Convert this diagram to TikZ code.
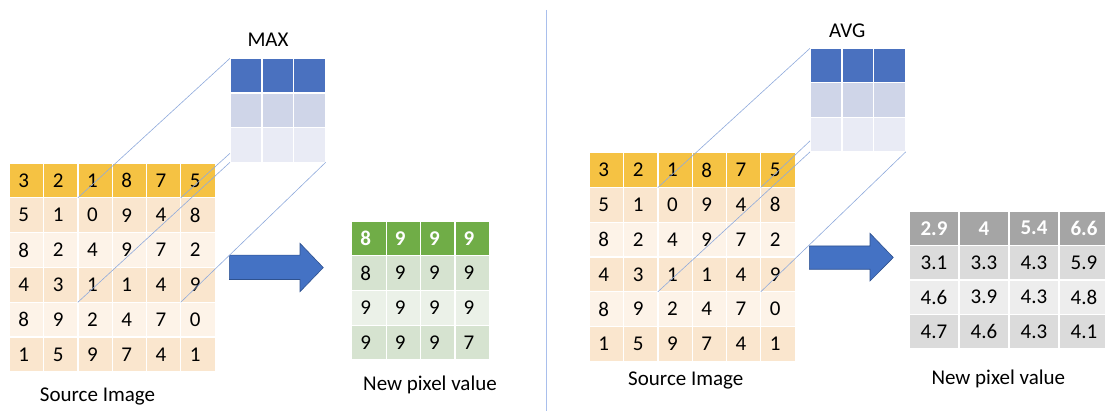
\documentclass[tikz,border=0pt]{standalone}
\usepackage{fontspec}
\setmainfont{Carlito}
\definecolor{gold}{HTML}{F5C243}
\definecolor{orA}{HTML}{FAE6CE}
\definecolor{orB}{HTML}{FDF3E8}
\definecolor{kblue}{HTML}{4A71BF}
\definecolor{kmid}{HTML}{CFD5E8}
\definecolor{klight}{HTML}{E9EBF5}
\definecolor{grn}{HTML}{70AD47}
\definecolor{gA}{HTML}{D6E3D0}
\definecolor{gB}{HTML}{EBF1E8}
\definecolor{gry}{HTML}{A5A5A5}
\definecolor{gyA}{HTML}{DBDBDB}
\definecolor{gyB}{HTML}{EDEDED}
\definecolor{arrfill}{HTML}{4472C4}
\definecolor{arredge}{HTML}{2F528F}
\definecolor{proj}{HTML}{8FAADC}
\definecolor{divider}{HTML}{A9BFEC}
\begin{document}
\begin{tikzpicture}[x=1pt,y=-1pt,
  cellbase/.style={draw=white,line width=1.2pt,outer sep=0pt,inner sep=0pt,anchor=north west},
  src/.style={cellbase,minimum width=34.3pt,minimum height=34.8pt,text width=16pt,inner xsep=8.8pt,align=left,font=\fontsize{21}{25}\selectfont},
  kern/.style={cellbase,minimum width=31.9pt,minimum height=34.6pt},
  res/.style={cellbase,minimum width=34.4pt,minimum height=34.7pt,text width=17pt,inner xsep=8.4pt,align=left},
  avgc/.style={cellbase,minimum width=50pt,minimum height=34.5pt},
  lbl/.style={font=\fontsize{21}{25}\selectfont,inner sep=0pt},
  projline/.style={draw=proj,line width=0.6pt},
  bigarrow/.style={fill=arrfill,draw=arredge,line width=0.6pt}]
\useasboundingbox (0,0) rectangle (1105,411);

% source grids
\foreach \row [count=\ri] in {{3,2,1,8,7,5},{5,1,0,9,4,8},{8,2,4,9,7,2},{4,3,1,1,4,9},{8,9,2,4,7,0},{1,5,9,7,4,1}}{
  \ifnum\ri=1 \def\fc{gold}\else\ifodd\ri \def\fc{orB}\else\def\fc{orA}\fi\fi
  \foreach \v [count=\ci] in \row {
    \node[src,fill=\fc] (L-\ri-\ci) at ({9.3+(\ci-1)*34.3},{163+(\ri-1)*34.8}) {\v};
    \node[src,fill=\fc] (R-\ri-\ci) at ({589.3+(\ci-1)*34.3},{152.7+(\ri-1)*34.75}) {\v};
  }
}

% kernels
\foreach \ri/\fc in {1/kblue,2/kmid,3/klight}{
  \foreach \ci in {1,2,3}{
    \node[kern,fill=\fc] (LK-\ri-\ci) at ({230+(\ci-1)*31.9},{58.3+(\ri-1)*34.7}) {};
    \node[kern,fill=\fc] (RK-\ri-\ci) at ({810+(\ci-1)*31.9},{48.3+(\ri-1)*34.5}) {};
  }
}

% MAX result
\foreach \row [count=\ri] in {{8,9,9,9},{8,9,9,9},{9,9,9,9},{9,9,9,7}}{
  \ifnum\ri=1 \def\fc{grn}\def\tc{white}\def\fw{\bfseries}\else\def\tc{black}\def\fw{}\ifodd\ri \def\fc{gB}\else\def\fc{gA}\fi\fi
  \foreach \v [count=\ci] in \row {
    \node[res,fill=\fc,text=\tc,font=\fontsize{21}{25}\selectfont\fw] (LR-\ri-\ci) at ({351.7+(\ci-1)*34.4},{221+(\ri-1)*34.75}) {\v};
  }
}

% AVG result
\foreach \row [count=\ri] in {{2.9,4,5.4,6.6},{3.1,3.3,4.3,5.9},{4.6,3.9,4.3,4.8},{4.7,4.6,4.3,4.1}}{
  \ifnum\ri=1 \def\fc{gry}\def\tc{white}\def\fw{\bfseries}\else\def\tc{black}\def\fw{}\ifodd\ri \def\fc{gyB}\else\def\fc{gyA}\fi\fi
  \foreach \v [count=\ci] in \row {
    \node[avgc,fill=\fc,text=\tc,font=\fontsize{21}{25}\selectfont\fw] (RR-\ri-\ci) at ({909+(\ci-1)*50},{211+(\ri-1)*34.5}) {\v};
  }
}

% arrows
\draw[bigarrow] (229.3,255.2) -- (300,255.2) -- (300,243.3) -- (323.3,267.6) -- (300,291.7) -- (300,279.5) -- (229.3,279.5) -- cycle;
\draw[bigarrow] (809.3,246) -- (870,246) -- (870,233.3) -- (893.3,257.5) -- (870,281) -- (870,269.3) -- (809.3,269.3) -- cycle;

% divider
\draw[draw=divider,line width=1pt] (546,10) -- (546,411);

% labels
\node[lbl] (maxl) at (268,40) {MAX};
\node[lbl] (avgl) at (847.3,31) {AVG};
\node[lbl] (srcL) at (97.5,396) {Source Image};
\node[lbl] (srcR) at (685.8,380) {Source Image};
\node[lbl] (newL) at (430,384.5) {New pixel value};
\node[lbl] (newR) at (998.3,378.5) {New pixel value};

% projection lines
\draw[projline] (LK-1-1.north west) -- (L-2-3.north west);
\draw[projline] ([yshift=9pt]LK-3-1.south west) -- (L-2-5.north east);
\draw[projline] (LK-3-1.south west) -- (L-4-3.south west);
\draw[projline] (LK-3-3.south east) -- (L-4-5.south east);
\draw[projline] (RK-1-1.north west) -- (R-2-3.north west);
\draw[projline] ([yshift=11pt]RK-3-1.south west) -- (R-2-5.north east);
\draw[projline] (RK-3-1.south west) -- (R-4-3.south west);
\draw[projline] (RK-3-3.south east) -- (R-4-5.south east);
\end{tikzpicture}
\end{document}
